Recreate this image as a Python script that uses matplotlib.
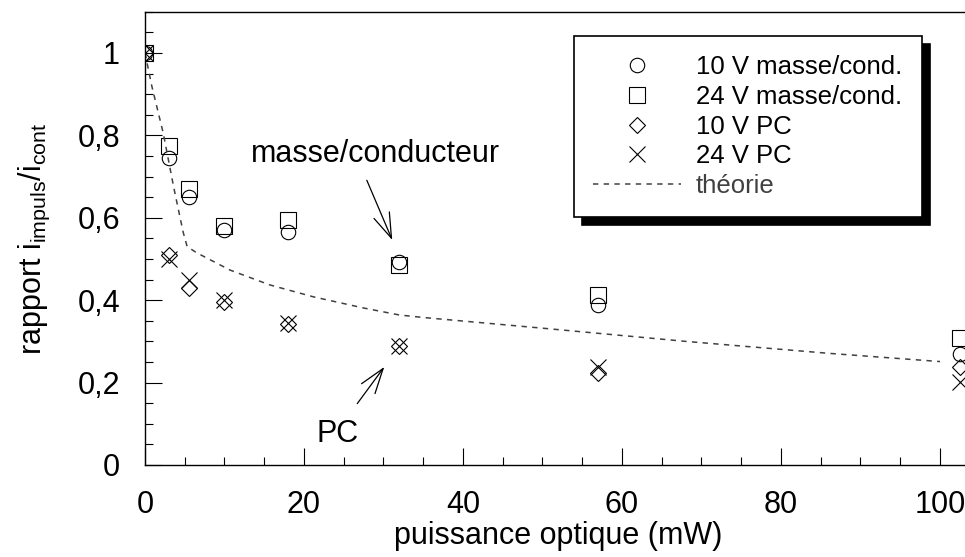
import matplotlib
matplotlib.use('Agg')
import matplotlib.pyplot as plt
from matplotlib.ticker import MultipleLocator, FixedLocator, FixedFormatter

plt.rcParams['font.family'] = ['Liberation Sans', 'DejaVu Sans']
plt.rcParams['mathtext.fontset'] = 'custom'
plt.rcParams['mathtext.rm'] = 'Liberation Sans'
plt.rcParams['mathtext.it'] = 'Liberation Sans:italic'

#### Measured ratios vs optical power
puissance = [0, 3, 5.5, 10, 18, 32, 57, 102.5]
v10_masse = [1.0, 0.745, 0.65, 0.57, 0.566, 0.493, 0.388, 0.27]
v24_masse = [1.0, 0.775, 0.669, 0.58, 0.594, 0.485, 0.413, 0.308]
v10_pc = [1.0, 0.509, 0.429, 0.396, 0.342, 0.289, 0.224, 0.238]
v24_pc = [1.0, 0.50, 0.449, 0.40, 0.345, 0.289, 0.238, 0.202]

#### Theory curve
theorie_x = [0, 0.85, 2.3, 3.6, 4.8, 5.3, 6.5, 10.7, 15.7, 21.2, 27.5, 32, 35, 50, 68, 86, 100]
theorie_y = [1.0, 0.92, 0.805, 0.675, 0.565, 0.53, 0.515, 0.473, 0.437, 0.408, 0.381, 0.364, 0.358, 0.332, 0.30, 0.271, 0.251]

ytick_vals = [0, 0.2, 0.4, 0.6, 0.8, 1.0]
ytick_labels = ['0', '0,2', '0,4', '0,6', '0,8', '1']
xtick_vals = [0, 20, 40, 60, 80, 100]
xtick_labels = ['0', '20', '40', '60', '80', '100']

fig = plt.figure(figsize=(9.65, 5.57), dpi=100)
ax = fig.add_axes([145/965, 1 - 465/557, (971 - 145)/965, (465 - 11.7)/557])

mk = dict(linestyle='none', markerfacecolor='none', markeredgecolor='black', markeredgewidth=0.8)
ax.plot(puissance, v10_masse, marker='o', markersize=10.4, label='10 V masse/cond.', **mk)
ax.plot(puissance, v24_masse, marker='s', markersize=11.2, label='24 V masse/cond.', **mk)
ax.plot(puissance, v10_pc, marker='D', markersize=8.1, label='10 V PC', **mk)
ax.plot(puissance, v24_pc, marker='x', markersize=12, label='24 V PC', **mk)
ax.plot(theorie_x, theorie_y, color='#404040', lw=1.1, linestyle=(0, (3.5, 3.5)), label='théorie')

ax.set_xlim(0, 103.9)
ax.set_ylim(0, 1.1)
ax.xaxis.set_major_locator(FixedLocator(xtick_vals))
ax.xaxis.set_major_formatter(FixedFormatter(xtick_labels))
ax.xaxis.set_minor_locator(MultipleLocator(5))
ax.yaxis.set_major_locator(FixedLocator(ytick_vals))
ax.yaxis.set_major_formatter(FixedFormatter(ytick_labels))
ax.yaxis.set_minor_locator(MultipleLocator(0.05))
ax.tick_params(which='both', direction='in', top=False, right=False, labelsize=22, pad=18, width=0.8)
ax.tick_params(which='major', length=12)
ax.tick_params(which='minor', length=6)
ax.spines['right'].set_visible(False)
for s in ['left', 'bottom', 'top']:
    ax.spines[s].set_linewidth(1.0)

ax.set_xlabel('puissance optique (mW)', fontsize=22, labelpad=1)
ax.set_ylabel(r'rapport i$_{\mathrm{impuls}}$/i$_{\mathrm{cont}}$', fontsize=22, labelpad=18)

#### Annotations
arrow = dict(arrowstyle='->, head_length=0.9, head_width=0.3', lw=0.9, color='black',
             shrinkA=0, shrinkB=0, mutation_scale=20)
ax.text(13.3, 0.735, 'masse/conducteur', fontsize=22, va='baseline')
ax.annotate('', xy=(31.1, 0.546), xytext=(27.9, 0.691), arrowprops=arrow)
ax.text(21.6, 0.056, 'PC', fontsize=22, va='baseline')
ax.annotate('', xy=(30.1, 0.238), xytext=(26.7, 0.149), arrowprops=arrow)

leg = ax.legend(loc='upper left', bbox_to_anchor=(574/965, 1 - 36/557), bbox_transform=fig.transFigure,
                fontsize=18.5, frameon=True, fancybox=False, edgecolor='black', framealpha=1,
                shadow={'ox': 6, 'oy': -6, 'color': 'black', 'alpha': 1},
                handlelength=3.4, handletextpad=0.6, labelspacing=0.22, borderpad=0.75, borderaxespad=0)
leg.get_frame().set_linewidth(1.2)
leg.get_texts()[-1].set_color('#404040')

plt.savefig('out.png', dpi=100)
